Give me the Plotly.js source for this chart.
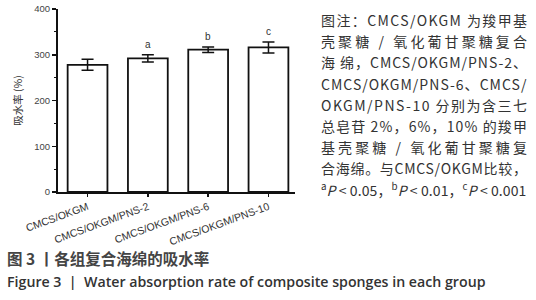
<!DOCTYPE html>
<html><head><meta charset="utf-8">
<script src="https://cdn.plot.ly/plotly-3.0.1.min.js"></script>
<style>body{margin:0;background:#fff}#chart{width:536px;height:300px}</style>
</head><body><div id="chart"></div>
<script>
const categories = ["CMCS/OKGM", "CMCS/OKGM/PNS-2", "CMCS/OKGM/PNS-6", "CMCS/OKGM/PNS-10"];
const waterAbsorption = [278, 292, 311, 316];
const errors = [12, 8, 6, 12];
const sigLetters = ["", "a", "b", "c"];
const yTickVals = [0, 100, 200, 300, 400];
const noteLines = [
  "图注：CMCS/OKGM 为羧甲基",
  "壳聚糖 / 氧化葡甘聚糖复合",
  "海 绵，CMCS/OKGM/PNS-2、",
  "CMCS/OKGM/PNS-6、CMCS/",
  "OKGM/PNS-10 分别为含三七",
  "总皂苷 2%，6%，10% 的羧甲",
  "基壳聚糖 / 氧化葡甘聚糖复",
  "合海绵。与CMCS/OKGM比较，",
  "<sup>a</sup><i>P</i> < 0.05，<sup>b</sup><i>P</i> < 0.01，<sup>c</sup><i>P</i> < 0.001"
];
const captionCN = "图 3 丨各组复合海绵的吸水率";
const captionEN = "Figure 3  |  Water absorption rate of composite sponges in each group";

const W = 536, H = 300;
const M = {l: 58, r: 241, t: 9, b: 108};
const pw = W - M.l - M.r, ph = H - M.t - M.b;
const PX = x => (x - M.l) / pw;
const PY = y => (H - M.b - y) / ph;

const annotations = [];
categories.forEach((c, i) => {
  if (sigLetters[i]) annotations.push({
    x: c, y: waterAbsorption[i] + errors[i], xref: 'x', yref: 'y',
    text: sigLetters[i], showarrow: false, yanchor: 'bottom', yshift: 3,
    font: {family: 'Liberation Sans, Arial', size: 10, color: '#333'}
  });
});
const noteStart = annotations.length;
noteLines.forEach((t, i) => annotations.push({
  x: PX(319), y: PY(20 + i * 21.2), xref: 'paper', yref: 'paper',
  text: t, showarrow: false, xanchor: 'left', yanchor: 'middle', align: 'left',
  font: {family: 'Noto Sans CJK SC', size: 14, color: '#333'}
}));
annotations.push({
  x: PX(5), y: PY(258), xref: 'paper', yref: 'paper', text: captionCN,
  showarrow: false, xanchor: 'left', yanchor: 'middle',
  font: {family: 'Noto Sans CJK SC', size: 15.5, color: '#444', weight: 700}
});
annotations.push({
  x: PX(5), y: PY(281), xref: 'paper', yref: 'paper', text: captionEN,
  showarrow: false, xanchor: 'left', yanchor: 'middle',
  font: {family: 'Open Sans', size: 14.2, color: '#333', weight: 600}
});

const trace = {
  type: 'bar', x: categories, y: waterAbsorption,
  marker: {color: '#fff', line: {color: '#111', width: 1.8}},
  error_y: {type: 'data', array: errors, visible: true, color: '#111', thickness: 1.5, width: 6},
  width: 0.66
};

const layout = {
  width: W, height: H, margin: M, showlegend: false,
  paper_bgcolor: '#fff', plot_bgcolor: '#fff',
  xaxis: {
    type: 'category', range: [-0.49, 3.44], showline: true, linecolor: '#111', linewidth: 2,
    ticks: 'outside', ticklen: 3, tickwidth: 1.5, tickcolor: '#111', tickangle: -20,
    tickfont: {family: 'Liberation Sans, Arial', size: 10.5, color: '#333'}, showgrid: false, zeroline: false
  },
  yaxis: {
    range: [0, 400], tickvals: yTickVals, showline: true, linecolor: '#111', linewidth: 2,
    ticks: 'outside', ticklen: 4, tickwidth: 1.5, tickcolor: '#111',
    minor: {dtick: 50, ticks: 'outside', ticklen: 2, tickcolor: '#111', tickwidth: 1},
    tickfont: {family: 'Liberation Sans, Arial', size: 9.5, color: '#444'}, showgrid: false, zeroline: false,
    title: {text: '吸水率 (%)', font: {family: 'Noto Sans CJK SC', size: 10.5, color: '#333'}, standoff: 10}
  },
  annotations: annotations
};
Plotly.newPlot('chart', [trace], layout, {staticPlot: true, displayModeBar: false}).then(gd => {
  // justify the note lines to the reference's column width
  const target = 206;
  for (let k = 0; k < noteLines.length; k++) {
    const g = gd.querySelector('.annotation[data-index="' + (noteStart + k) + '"]');
    if (!g) continue;
    const txt = g.querySelector('text.annotation-text');
    if (!txt) continue;
    const w = txt.getBBox().width;
    const n = txt.textContent.length;
    if (n > 1 && w < target) txt.style.letterSpacing = ((target - w) / (n - 1)).toFixed(2) + 'px';
  }
});
</script></body></html>
